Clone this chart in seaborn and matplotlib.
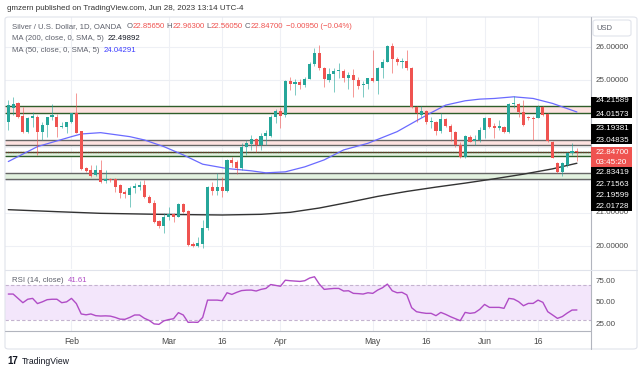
import numpy as np
import pandas as pd
import seaborn as sns
import matplotlib.pyplot as plt
from matplotlib.patches import Rectangle, FancyBboxPatch
from matplotlib import transforms

# Silver / U.S. Dollar, 1D, OANDA - daily candles (weekdays, mid Jan .. Jun 28 2023)
opens = [23.75, 24.17, 24.30, 23.92, 23.45, 23.85, 23.90, 23.45, 23.65, 23.90,
         23.90, 23.58, 23.58, 23.73, 24.00, 23.48, 22.35, 22.30, 22.15, 22.30,
         21.97, 22.02, 22.01, 21.84, 21.63, 21.55, 21.74, 21.77, 21.84, 21.49,
         21.31, 20.77, 20.61, 20.89, 20.97, 20.89, 21.27, 21.07, 20.07, 20.01,
         20.07, 20.54, 21.77, 21.67, 21.77, 21.67, 22.60, 22.55, 22.35, 22.99,
         23.08, 23.22, 23.05, 23.33, 23.33, 23.90, 24.07, 23.95, 24.98, 24.90,
         24.95, 24.85, 25.05, 25.48, 25.81, 25.36, 25.00, 25.18, 25.27, 25.28,
         25.08, 25.16, 25.00, 24.85, 24.89, 25.06, 24.98, 25.38, 25.56, 26.04,
         25.64, 25.54, 25.58, 25.38, 24.20, 23.95, 24.07, 23.73, 23.75, 23.47,
         23.83, 23.63, 23.45, 23.05, 22.70, 23.30, 23.17, 23.20, 23.50, 23.85,
         23.62, 23.55, 23.60, 23.43, 24.27, 24.27, 24.05, 23.90, 23.87, 23.87,
         24.20, 23.97, 23.15, 22.52, 22.22, 22.45, 22.80, 22.8565]
highs = [24.40, 24.50, 24.35, 24.20, 23.90, 24.05, 23.95, 23.75, 23.90, 24.28,
         23.98, 23.75, 23.75, 24.02, 24.61, 23.48, 22.38, 22.45, 22.45, 22.60,
         22.30, 22.04, 22.04, 21.86, 21.69, 21.80, 21.89, 21.97, 21.99, 21.54,
         21.39, 20.79, 20.99, 21.17, 21.01, 21.29, 21.29, 21.09, 20.14, 20.29,
         20.79, 21.81, 21.94, 22.19, 22.09, 22.62, 22.70, 22.60, 23.10, 23.20,
         23.35, 23.25, 23.40, 23.50, 23.95, 24.13, 24.20, 25.01, 25.10, 25.05,
         25.05, 25.10, 25.56, 25.96, 26.06, 25.41, 25.36, 25.36, 25.51, 25.34,
         25.24, 25.34, 25.10, 24.98, 25.08, 25.91, 25.41, 25.64, 26.06, 26.11,
         25.71, 25.66, 25.91, 25.41, 24.23, 24.22, 24.10, 23.90, 23.77, 24.00,
         23.85, 23.67, 23.47, 23.15, 23.35, 23.35, 23.35, 23.60, 23.90, 23.87,
         23.70, 23.80, 23.62, 24.30, 24.52, 24.30, 24.40, 23.93, 23.93, 24.25,
         24.22, 24.00, 23.17, 22.55, 22.55, 22.83, 23.10, 22.963]
lows = [23.50, 23.95, 23.85, 23.42, 23.42, 23.60, 22.75, 23.20, 23.30, 23.80,
        23.30, 23.55, 23.40, 23.70, 23.40, 22.30, 22.22, 22.07, 22.11, 21.89,
        21.89, 21.94, 21.64, 21.44, 21.44, 21.19, 21.60, 21.69, 21.44, 21.29,
        20.71, 20.54, 20.41, 20.79, 20.74, 20.87, 21.01, 20.01, 19.99, 19.99,
        19.94, 20.50, 21.54, 21.54, 21.49, 21.64, 22.40, 22.17, 22.30, 22.75,
        22.90, 22.83, 22.90, 23.05, 23.30, 23.70, 23.57, 23.90, 24.70, 24.55,
        24.75, 24.80, 25.03, 25.44, 25.31, 24.80, 24.96, 24.63, 25.06, 24.96,
        24.75, 24.50, 24.75, 24.50, 24.75, 24.95, 24.57, 25.08, 25.54, 25.21,
        25.46, 25.36, 25.31, 24.15, 23.73, 23.90, 23.67, 23.55, 23.35, 23.40,
        23.60, 23.17, 23.00, 22.67, 22.67, 23.13, 23.05, 23.15, 23.25, 23.55,
        23.25, 23.50, 23.40, 23.40, 24.15, 23.90, 23.63, 23.80, 23.20, 23.85,
        23.93, 23.15, 22.65, 22.19, 22.10, 22.40, 22.75, 22.5605]
closes = [24.25, 24.27, 23.90, 23.45, 23.85, 23.92, 23.45, 23.65, 23.88, 23.95,
          23.58, 23.60, 23.73, 24.00, 23.42, 22.32, 22.25, 22.11, 22.30, 21.94,
          22.01, 21.98, 21.79, 21.61, 21.56, 21.75, 21.81, 21.84, 21.49, 21.31,
          20.74, 20.61, 20.89, 20.97, 20.89, 21.27, 21.04, 20.04, 20.01, 20.09,
          20.54, 21.77, 21.67, 21.77, 21.67, 22.60, 22.52, 22.35, 22.99, 23.10,
          23.22, 23.05, 23.32, 23.40, 23.90, 24.07, 23.93, 24.98, 24.90, 24.95,
          24.85, 25.05, 25.48, 25.81, 25.36, 25.03, 25.18, 25.28, 25.28, 25.08,
          25.16, 25.00, 24.83, 24.90, 25.06, 24.98, 25.38, 25.56, 26.04, 25.64,
          25.54, 25.58, 25.36, 24.20, 24.00, 24.07, 23.73, 23.75, 23.47, 23.83,
          23.63, 23.45, 23.05, 22.70, 23.32, 23.15, 23.22, 23.50, 23.87, 23.60,
          23.55, 23.62, 23.43, 24.27, 24.31, 24.05, 23.65, 23.85, 23.83, 24.20,
          23.95, 23.17, 22.67, 22.22, 22.50, 22.80, 22.8565, 22.847]

# moving averages (candle index, value)
ma200_idx = [0, 10, 19, 31, 44, 52, 58, 64, 70, 76, 82, 88, 94, 100, 106, 112, 117]
ma200_val = [21.10, 21.04, 20.99, 20.96, 20.94, 20.96, 21.02, 21.15, 21.32, 21.50,
             21.65, 21.78, 21.90, 22.03, 22.17, 22.33, 22.49892]
ma50_idx = [0, 6, 13, 15, 19, 25, 28, 32, 36, 40, 45, 50, 53, 57, 61, 65, 69, 74,
            80, 84, 87, 90, 94, 97, 100, 104, 108, 112, 117]
ma50_val = [22.55, 23.00, 23.30, 23.38, 23.42, 23.30, 23.20, 23.00, 22.75, 22.47,
            22.34, 22.27, 22.21, 22.24, 22.39, 22.60, 22.90, 23.10, 23.45, 23.78,
            24.02, 24.25, 24.38, 24.43, 24.45, 24.50, 24.45, 24.30, 24.04291]

rsi = [60, 60, 55, 50, 54, 55, 49, 51, 53.5, 54, 54, 50, 51, 55, 49, 37, 36, 37, 35, 34.6,
       34.8, 34.5, 33, 31, 30.8, 33, 35.8, 35.8, 32, 29.5, 25.5, 25, 29, 30.5, 31.5, 38.5,
       35.8, 27.3, 27.5, 27.3, 33, 53, 53, 53, 52.3, 61.5, 59.6, 62, 64, 64.5, 64.6, 63.5,
       65.4, 66.5, 71, 70, 69, 76, 75.4, 75, 74.6, 75.4, 78.5, 80, 71.5, 65.4, 66, 66.5,
       66.5, 63.5, 63.8, 60.8, 60.5, 60, 61.5, 60.8, 64.6, 67.3, 71.5, 63.8, 61.5, 62, 59,
       44.2, 39.6, 38.5, 37.7, 37.7, 35, 38.8, 36.5, 33.8, 31.5, 29.2, 38.8, 37.7, 38.5,
       42.3, 48, 44.6, 44.6, 44.6, 43.5, 55, 54.2, 51.2, 46.5, 49.2, 49.2, 53, 50.4, 39.6,
       35.8, 31.9, 34, 38, 41.5, 41.61]

# drawn levels
levels = [24.21589, 24.01573, 23.19381, 23.04835, 22.83419, 22.71563, 22.19599, 22.01728]
last_price = 22.847

tick_idx = [13, 33, 44, 56, 75, 86, 98, 109]
tick_lbl = ['Feb', 'Mar', '16', 'Apr', 'May', '16', 'Jun', '16']
price_ticks = [20, 21, 22, 23, 24, 25, 26]
price_lbls = [20, 21, 25, 26]   # the others sit under the level boxes

df = pd.DataFrame({'open': opens, 'high': highs, 'low': lows, 'close': closes})
df['i'] = np.arange(len(df))
df['up'] = df['close'] >= df['open']

sns.set_theme(style='white')
plt.rcParams['font.family'] = ['Liberation Sans', 'DejaVu Sans']

W, H = 643, 373
fig = plt.figure(figsize=(W / 100, H / 100), dpi=100)
fx = lambda x: x / W
fy = lambda y: 1 - y / H

ax = fig.add_axes([fx(5), fy(269), fx(586), fy(17) - fy(269)])
ax_r = fig.add_axes([fx(5), fy(331), fx(586), fy(270) - fy(331)])
xlim = (-0.68, 119.9)

up_c, dn_c = '#26a69a', '#ef5350'
grid_c = '#eef0f5'

# price pane
ax.set_xlim(xlim)
ax.set_ylim(19.313, 26.904)
for p in price_ticks:
    ax.axhline(p, color=grid_c, lw=0.8, zorder=0)
for t in tick_idx:
    ax.axvline(t, color=grid_c, lw=0.8, zorder=0)
    ax_r.axvline(t, color=grid_c, lw=0.8, zorder=0)

pink, lgreen = '#fde2e0', '#e2f1df'
dgreen, dgray = '#2f5e2a', '#666666'
bands = [(0, 1, pink, dgreen), (2, 3, pink, dgray), (4, 5, lgreen, dgreen), (6, 7, lgreen, dgray)]
for a, b, fc, lc in bands:
    ax.axhspan(levels[b], levels[a], color=fc, lw=0, zorder=1)
    ax.axhline(levels[a], color=lc, lw=1.0, zorder=2)
    ax.axhline(levels[b], color=lc, lw=1.0, zorder=2)
ax.axhline(last_price, color='#7f2f2f', lw=0.9, ls=(0, (1, 1)), zorder=2)

sns.lineplot(x=ma200_idx, y=ma200_val, ax=ax, color='#333333', lw=1.0, zorder=3)
sns.lineplot(x=ma50_idx, y=ma50_val, ax=ax, color='#6a6aff', lw=0.9, zorder=3)

cols = np.where(df['up'], up_c, dn_c)
ax.vlines(df['i'], df['low'], df['high'], colors=cols, lw=0.7, alpha=0.6, zorder=4)
body_lo = df[['open', 'close']].min(axis=1)
body_h = (df['close'] - df['open']).abs().clip(lower=0.03)
ax.bar(df['i'], body_h, bottom=body_lo, width=0.64, color=cols, lw=0, zorder=5)

ax.set_xticks([])
ax.set_yticks([])
for s in ax.spines.values():
    s.set_visible(False)

# RSI pane
ax_r.set_xlim(xlim)
ax_r.set_ylim(17.3, 87.8)
ax_r.axhspan(30, 70, color='#f3e6fb', lw=0, zorder=0)
ax_r.axhline(70, color='#c4b3cf', lw=0.8, ls=(0, (3, 2)), zorder=1)
ax_r.axhline(30, color='#c4b3cf', lw=0.8, ls=(0, (3, 2)), zorder=1)
sns.lineplot(x=df['i'], y=rsi, ax=ax_r, color='#b04cc6', lw=1.0, zorder=3)
ax_r.set_xticks([])
ax_r.set_yticks([])
ax_r.set_xlabel('')
ax_r.set_ylabel('')
ax.set_xlabel('')
ax.set_ylabel('')
for s in ax_r.spines.values():
    s.set_visible(False)

# frame and separators
fig.add_artist(FancyBboxPatch((fx(5), fy(349)), fx(632), fy(17) - fy(349),
                              boxstyle='round,pad=0,rounding_size=0.006',
                              transform=fig.transFigure, fc='none', ec='#e0e3eb', lw=0.8))
fig.add_artist(plt.Line2D([fx(591), fx(591)], [fy(17), fy(349)], color='#b2b5be', lw=0.8))
fig.add_artist(plt.Line2D([fx(5), fx(637)], [fy(270), fy(270)], color='#e0e3eb', lw=0.8))
fig.add_artist(plt.Line2D([fx(5), fx(591)], [fy(331), fy(331)], color='#b2b5be', lw=0.8))

fs = 5.8
gray_t = '#5d606b'
# price scale labels
tr = transforms.blended_transform_factory(fig.transFigure, ax.transData)
for p in price_lbls:
    fig.text(fx(596), p, f'{p:.5f}', transform=tr, fontsize=fs, color='#4a4a4a',
             va='center', zorder=3)
tr_r = transforms.blended_transform_factory(fig.transFigure, ax_r.transData)
for p in [75, 50, 25]:
    fig.text(fx(596), p, f'{p:.2f}', transform=tr_r, fontsize=fs, color='#4a4a4a',
             va='center', zorder=3)

fig.add_artist(FancyBboxPatch((fx(593), fy(36)), fx(38), fy(20) - fy(36),
                              boxstyle='round,pad=0,rounding_size=0.005',
                              transform=fig.transFigure, fc='white', ec='#e0e3eb', lw=0.8))
fig.text(fx(596), fy(28), 'USD', fontsize=5.5, color=gray_t, va='center')

# level label boxes
for top, bot, c in [(96.7, 118.3, 'black'), (124, 144, 'black'),
                    (146.7, 166.7, '#ef5350'), (167, 211, 'black')]:
    fig.add_artist(Rectangle((fx(591), fy(bot)), fx(41), fy(top) - fy(bot),
                             transform=fig.transFigure, fc=c, ec='none', zorder=5))
lab_y = [100.7, 114, 128.3, 140, 173, 184.5, 195.8, 207]
for v, yy in zip(levels, lab_y):
    fig.text(fx(596), fy(yy), f'{v:.5f}', fontsize=fs, color='white', va='center', zorder=6)
fig.text(fx(596), fy(152.5), f'{last_price:.5f}', fontsize=fs, color='white', va='center', zorder=6)
fig.text(fx(596), fy(162), '03:45:20', fontsize=fs, color='white', va='center', zorder=6)

# date labels
tr_d = transforms.blended_transform_factory(ax_r.transData, fig.transFigure)
for t, l in zip(tick_idx, tick_lbl):
    ax_r.text(t, fy(341), l, transform=tr_d, fontsize=6.2, color='#4a4a4a',
              ha='center', va='center', clip_on=False)

# legend rows
rend = fig.canvas.get_renderer()


def row(x, y, parts, size=5.6):
    for s, c, gap in parts:
        t = fig.text(fx(x), fy(y), s, fontsize=size, color=c, va='center')
        x += t.get_window_extent(renderer=rend).width + gap


red_t = '#ef5350'
o, h, l, c = opens[-1], highs[-1], lows[-1], closes[-1]
chg = c - closes[-2]
row(12, 27, [('Silver / U.S. Dollar, 1D, OANDA', gray_t, 5),
             ('O', gray_t, 0), (f'{o:.5f}', red_t, 2),
             ('H', gray_t, 0), (f'{h:.5f}', red_t, 2),
             ('L', gray_t, 0), (f'{l:.5f}', red_t, 2),
             ('C', gray_t, 0), (f'{c:.5f}', red_t, 3),
             (f'\u2212{abs(chg):.5f} (\u2212{abs(chg) / closes[-2] * 100:.2f}%)', red_t, 0)])
row(12, 38.5, [('MA (200, close, 0, SMA, 5)', gray_t, 4), (f'{ma200_val[-1]:.5f}', '#131722', 0)])
row(12, 50, [('MA (50, close, 0, SMA, 5)', gray_t, 4), (f'{ma50_val[-1]:.5f}', '#3d3dff', 0)])
row(12, 281, [('RSI (14, close)', gray_t, 4), (f'{rsi[-1]:.2f}', '#b04cc6', 0)])

fig.text(fx(7), fy(8.5), 'gmzern published on TradingView.com, Jun 28, 2023 13:14 UTC-4',
         fontsize=5.8, color='#333333', va='center')
fig.text(fx(7), fy(361), '17', fontsize=7, fontweight='heavy', color='#131722', va='center')
fig.text(fx(22), fy(361), 'TradingView', fontsize=6.2, color='#131722', va='center')

fig.savefig('out.png', dpi=100, facecolor='white')
